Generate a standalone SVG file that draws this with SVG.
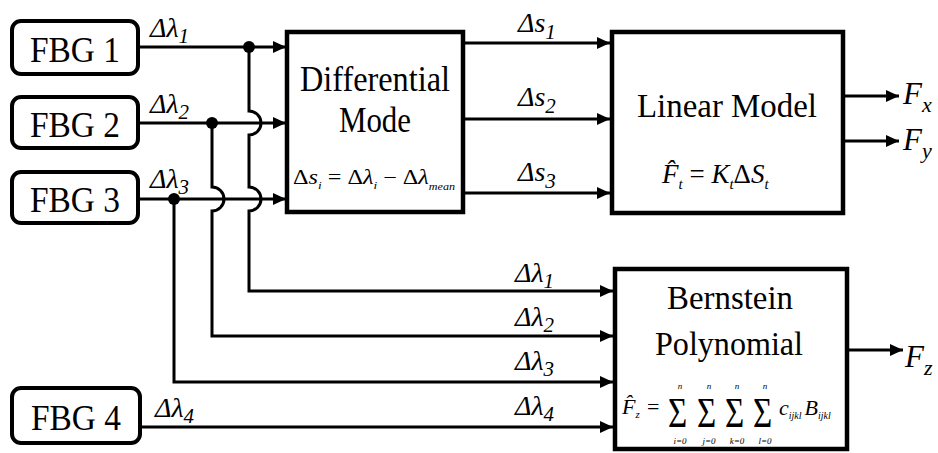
<svg xmlns="http://www.w3.org/2000/svg" width="938" height="453" viewBox="0 0 938 453">
  <style>
    .it{font-style:italic}
    .box{fill:#fff;stroke:#000;stroke-width:4.5}
    .fbg{fill:#fff;stroke:#000;stroke-width:4}
    .wire{fill:none;stroke:#000;stroke-width:3}
    .lbl{font-size:28px}
    .sub{font-size:21px}
  </style>
  <defs>
    <marker id="arr" markerUnits="userSpaceOnUse" markerWidth="14" markerHeight="14" refX="13" refY="7" orient="auto">
      <path d="M0,1 L13,7 L0,13 z" fill="#000"/>
    </marker>
  </defs>
  <rect width="938" height="453" fill="#fff"/>

  <!-- connectors -->
  <g id="connectors">
    <path class="wire" d="M138,47 H286" marker-end="url(#arr)"/>
    <path class="wire" d="M138,123 H286" marker-end="url(#arr)"/>
    <path class="wire" d="M138,199 H286" marker-end="url(#arr)"/>
    <path class="wire" d="M249,47 V111 A12,12 0 0 1 249,135 V187 A12,12 0 0 1 249,211 V291 H613" marker-end="url(#arr)"/>
    <path class="wire" d="M212,123 V187 A12,12 0 0 1 212,211 V336 H613" marker-end="url(#arr)"/>
    <path class="wire" d="M174,199 V382 H613" marker-end="url(#arr)"/>
    <path class="wire" d="M140,427 H613" marker-end="url(#arr)"/>
    <circle cx="249" cy="47" r="6"/>
    <circle cx="212" cy="123" r="6"/>
    <circle cx="174" cy="199" r="6"/>
    <path class="wire" d="M463,43 H610" marker-end="url(#arr)"/>
    <path class="wire" d="M463,119 H610" marker-end="url(#arr)"/>
    <path class="wire" d="M463,193 H610" marker-end="url(#arr)"/>
    <path class="wire" d="M843,96 H899" marker-end="url(#arr)"/>
    <path class="wire" d="M843,141 H899" marker-end="url(#arr)"/>
    <path class="wire" d="M847,350 H903" marker-end="url(#arr)"/>

    <!-- signal labels -->
    <text font-family="Liberation Serif" class="it lbl" x="150" y="37">Δλ<tspan class="sub" dy="6">1</tspan></text>
    <text font-family="Liberation Serif" class="it lbl" x="150" y="113">Δλ<tspan class="sub" dy="6">2</tspan></text>
    <text font-family="Liberation Serif" class="it lbl" x="150" y="188">Δλ<tspan class="sub" dy="6">3</tspan></text>
    <text font-family="Liberation Serif" class="it lbl" x="155" y="417">Δλ<tspan class="sub" dy="6">4</tspan></text>
    <text font-family="Liberation Serif" class="it lbl" x="515" y="282">Δλ<tspan class="sub" dy="6">1</tspan></text>
    <text font-family="Liberation Serif" class="it lbl" x="515" y="326">Δλ<tspan class="sub" dy="6">2</tspan></text>
    <text font-family="Liberation Serif" class="it lbl" x="515" y="370">Δλ<tspan class="sub" dy="6">3</tspan></text>
    <text font-family="Liberation Serif" class="it lbl" x="515" y="415">Δλ<tspan class="sub" dy="6">4</tspan></text>
    <text font-family="Liberation Serif" class="it lbl" x="518" y="32">Δs<tspan class="sub" dy="7">1</tspan></text>
    <text font-family="Liberation Serif" class="it lbl" x="518" y="106">Δs<tspan class="sub" dy="7">2</tspan></text>
    <text font-family="Liberation Serif" class="it lbl" x="518" y="181">Δs<tspan class="sub" dy="7">3</tspan></text>
    <text font-family="Liberation Serif" class="it" font-size="31" x="903" y="104">F<tspan font-size="22" dy="8">x</tspan></text>
    <text font-family="Liberation Serif" class="it" font-size="31" x="903" y="150">F<tspan font-size="22" dy="8">y</tspan></text>
    <text font-family="Liberation Serif" class="it" font-size="31" x="905" y="367">F<tspan font-size="22" dy="8">z</tspan></text>
  </g>

  <!-- sensor sources -->
  <g id="fbg1">
    <rect class="fbg" x="12" y="21" width="126" height="53" rx="9"/>
    <text font-family="Liberation Serif" font-size="35" x="75" y="62" text-anchor="middle" textLength="90" lengthAdjust="spacingAndGlyphs">FBG 1</text>
  </g>
  <g id="fbg2">
    <rect class="fbg" x="12" y="97" width="126" height="51" rx="9"/>
    <text font-family="Liberation Serif" font-size="35" x="75" y="137" text-anchor="middle" textLength="90" lengthAdjust="spacingAndGlyphs">FBG 2</text>
  </g>
  <g id="fbg3">
    <rect class="fbg" x="12" y="172" width="126" height="51" rx="9"/>
    <text font-family="Liberation Serif" font-size="35" x="75" y="212" text-anchor="middle" textLength="90" lengthAdjust="spacingAndGlyphs">FBG 3</text>
  </g>
  <g id="fbg4">
    <rect class="fbg" x="12" y="388" width="128" height="55" rx="9"/>
    <text font-family="Liberation Serif" font-size="35" x="76" y="430" text-anchor="middle" textLength="90" lengthAdjust="spacingAndGlyphs">FBG 4</text>
  </g>

  <!-- differential mode block -->
  <g id="differential">
    <rect class="box" x="287" y="32" width="176" height="180"/>
    <text font-family="Liberation Serif" font-size="35" x="375" y="91" text-anchor="middle" textLength="150" lengthAdjust="spacingAndGlyphs">Differential</text>
    <text font-family="Liberation Serif" font-size="35" x="375" y="132" text-anchor="middle" textLength="72" lengthAdjust="spacingAndGlyphs">Mode</text>
    <text font-family="Liberation Serif" font-size="20" x="293" y="184" textLength="162" lengthAdjust="spacingAndGlyphs">Δ<tspan class="it">s</tspan><tspan class="it" font-size="11" dy="5">i</tspan><tspan dy="-5"> = Δ</tspan><tspan class="it">λ</tspan><tspan class="it" font-size="11" dy="5">i</tspan><tspan dy="-5"> − Δ</tspan><tspan class="it">λ</tspan><tspan class="it" font-size="10" dy="6">mean</tspan></text>
  </g>

  <!-- linear model block -->
  <g id="linear">
    <rect class="box" x="612" y="32" width="231" height="181"/>
    <text font-family="Liberation Serif" font-size="33" x="727" y="117" text-anchor="middle" textLength="180" lengthAdjust="spacingAndGlyphs">Linear  Model</text>
    <text font-family="Liberation Serif" class="it" font-size="27" x="662" y="183">F&#x302;<tspan font-size="15" dy="6">t</tspan><tspan font-style="normal" dy="-6"> = </tspan>K<tspan font-size="15" dy="6">t</tspan><tspan font-style="normal" dy="-6">Δ</tspan>S<tspan font-size="15" dy="6">t</tspan></text>
  </g>

  <!-- bernstein polynomial block -->
  <g id="bernstein">
    <rect class="box" x="615" y="269" width="232" height="180"/>
    <text font-family="Liberation Serif" font-size="34" x="730" y="309" text-anchor="middle" textLength="126" lengthAdjust="spacingAndGlyphs">Bernstein</text>
    <text font-family="Liberation Serif" font-size="34" x="729" y="355" text-anchor="middle" textLength="148" lengthAdjust="spacingAndGlyphs">Polynomial</text>
    <text font-family="Liberation Serif" class="it" font-size="22" x="622" y="414">F&#x302;<tspan font-size="11" dy="4">z</tspan></text>
    <text font-family="Liberation Serif" font-size="22" x="647" y="414">=</text>
    <g font-size="30">
      <text font-family="Liberation Serif" transform="translate(668,427) scale(1.1,1.4)">Σ</text>
      <text font-family="Liberation Serif" transform="translate(697,427) scale(1.1,1.4)">Σ</text>
      <text font-family="Liberation Serif" transform="translate(725,427) scale(1.1,1.4)">Σ</text>
      <text font-family="Liberation Serif" transform="translate(753,427) scale(1.1,1.4)">Σ</text>
    </g>
    <g class="it" font-size="9" text-anchor="middle">
      <text font-family="Liberation Serif" x="680" y="389">n</text>
      <text font-family="Liberation Serif" x="709" y="389">n</text>
      <text font-family="Liberation Serif" x="737" y="389">n</text>
      <text font-family="Liberation Serif" x="765" y="389">n</text>
      <text font-family="Liberation Serif" x="680" y="444">i=0</text>
      <text font-family="Liberation Serif" x="709" y="444">j=0</text>
      <text font-family="Liberation Serif" x="737" y="444">k=0</text>
      <text font-family="Liberation Serif" x="765" y="444">l=0</text>
    </g>
    <text font-family="Liberation Serif" class="it" font-size="22" x="779" y="415">c<tspan font-size="10" dy="4">ijkl</tspan><tspan dy="-4" dx="3">B</tspan><tspan font-size="10" dy="4">ijkl</tspan></text>
  </g>
</svg>
